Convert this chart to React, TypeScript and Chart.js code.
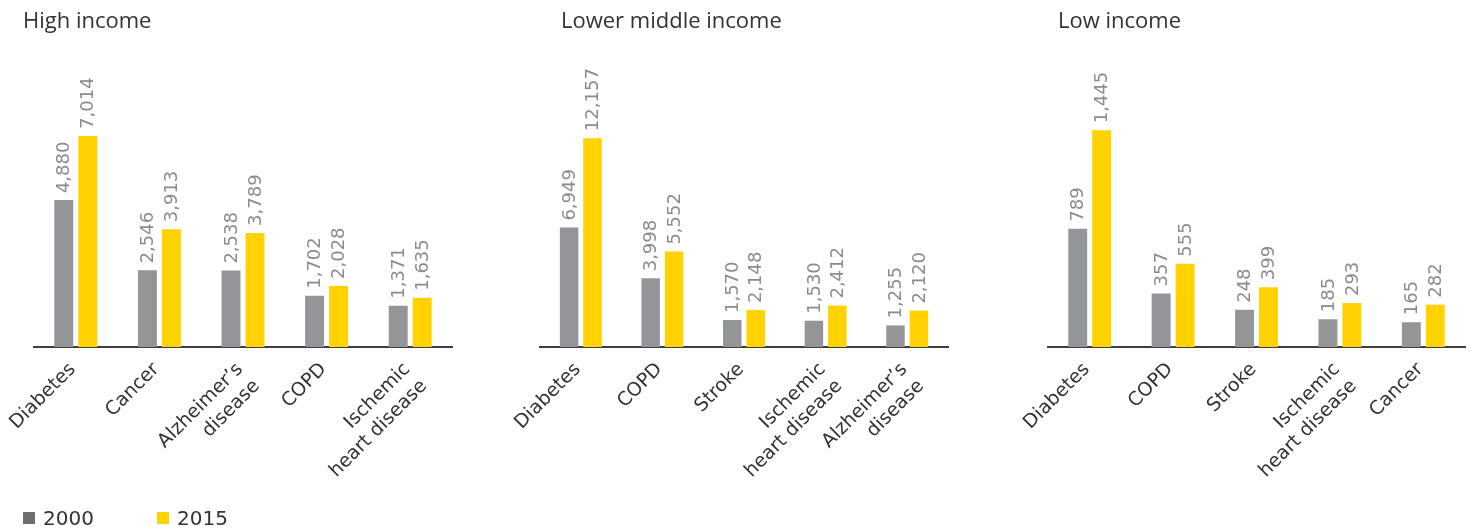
import React, { useEffect, useRef } from "react";
import { Chart, registerables } from "chart.js";

Chart.register(...registerables);

const seriesNames = ["2000", "2015"];
const seriesColors = ["#939598", "#ffd200"];
const legendColors = ["#6e6e72", "#ffd200"];

const panelTitles = ["High income", "Lower middle income", "Low income"];

const highCategories = ["Diabetes", "Cancer", ["Alzheimer’s", "disease"], "COPD", ["Ischemic", "heart disease"]];
const high2000 = [4880, 2546, 2538, 1702, 1371];
const high2015 = [7014, 3913, 3789, 2028, 1635];

const lowerMiddleCategories = ["Diabetes", "COPD", "Stroke", ["Ischemic", "heart disease"], ["Alzheimer’s", "disease"]];
const lowerMiddle2000 = [6949, 3998, 1570, 1530, 1255];
const lowerMiddle2015 = [12157, 5552, 2148, 2412, 2120];

const lowCategories = ["Diabetes", "COPD", "Stroke", ["Ischemic", "heart disease"], "Cancer"];
const low2000 = [789, 357, 248, 185, 165];
const low2015 = [1445, 555, 399, 293, 282];

const axisMax = [9535, 16705, 1913];

const panels = [
  { title: panelTitles[0], categories: highCategories, a: high2000, b: high2015, max: axisMax[0], left: 0, width: 490, padL: 34, padR: 38, titleX: 23 },
  { title: panelTitles[1], categories: lowerMiddleCategories, a: lowerMiddle2000, b: lowerMiddle2015, max: axisMax[1], left: 490, width: 490, padL: 50, padR: 32, titleX: 561 },
  { title: panelTitles[2], categories: lowCategories, a: low2000, b: low2015, max: axisMax[2], left: 980, width: 491, padL: 68, padR: 6, titleX: 1058 },
];

const H = 529;
const PLOT_TOP = 60;
const PLOT_BOTTOM = 347;
const AXIS_H = 140;

const valueLabelPlugin = {
  id: "valueLabels",
  afterDatasetsDraw(chart: any) {
    const ctx = chart.ctx;
    ctx.save();
    ctx.font = "18px 'DejaVu Sans'";
    ctx.fillStyle = "#8a8b8d";
    ctx.textAlign = "left";
    ctx.textBaseline = "middle";
    chart.data.datasets.forEach((ds: any, di: number) => {
      const meta = chart.getDatasetMeta(di);
      meta.data.forEach((bar: any, i: number) => {
        const v = ds.data[i];
        ctx.save();
        ctx.translate(bar.x + 1, bar.y - 7);
        ctx.rotate(-Math.PI / 2);
        ctx.fillText(Number(v).toLocaleString("en-US"), 0, 0);
        ctx.restore();
      });
    });
    ctx.restore();
  },
};

function Panel({ p }: { p: any }) {
  const ref = useRef<HTMLCanvasElement>(null);
  useEffect(() => {
    if (!ref.current) return;
    const chart = new Chart(ref.current, {
      type: "bar",
      data: {
        labels: p.categories,
        datasets: [
          { label: seriesNames[0], data: p.a, backgroundColor: seriesColors[0], barPercentage: 0.79, categoryPercentage: 0.574 },
          { label: seriesNames[1], data: p.b, backgroundColor: seriesColors[1], barPercentage: 0.79, categoryPercentage: 0.574 },
        ],
      },
      options: {
        responsive: false,
        animation: false,
        devicePixelRatio: 1,
        layout: { padding: { left: p.padL, right: p.padR, top: PLOT_TOP, bottom: H - PLOT_BOTTOM - AXIS_H } },
        plugins: { legend: { display: false }, tooltip: { enabled: false }, title: { display: false } },
        scales: {
          x: {
            grid: { display: false, drawTicks: false },
            border: { display: true, color: "#3d3d3f", width: 2 },
            ticks: {
              autoSkip: false,
              maxRotation: 45,
              minRotation: 45,
              padding: 11,
              labelOffset: -3,
              color: "#333333",
              font: { family: "'DejaVu Sans'", size: 19, lineHeight: 1.25 },
            },
            afterFit: (scale: any) => {
              scale.height = AXIS_H;
              scale.paddingLeft = 0;
              scale.paddingRight = 0;
            },
          },
          y: { display: false, min: 0, max: p.max },
        },
      },
      plugins: [valueLabelPlugin],
    });
    return () => chart.destroy();
  }, []);
  return (
    <canvas
      ref={ref}
      width={p.width}
      height={H}
      style={{ position: "absolute", left: p.left, top: 0, width: p.width, height: H }}
    />
  );
}

export default function App() {
  return (
    <div style={{ position: "fixed", left: 0, top: 0, width: 1471, height: H, background: "#ffffff", overflow: "hidden" }}>
      {panels.map((p, i) => (
        <Panel key={i} p={p} />
      ))}
      {panels.map((p, i) => (
        <div
          key={"t" + i}
          style={{ position: "absolute", left: p.titleX, top: 4, fontFamily: "'Open Sans'", fontSize: 22, color: "#333335", whiteSpace: "nowrap", lineHeight: "30px" }}
        >
          {p.title}
        </div>
      ))}
      {seriesNames.map((s, i) => (
        <div
          key={"l" + i}
          style={{ position: "absolute", left: i === 0 ? 23 : 157, top: 506, display: "flex", alignItems: "center", fontFamily: "'DejaVu Sans'", fontSize: 20, color: "#333333", lineHeight: "24px" }}
        >
          <span style={{ display: "inline-block", width: 12, height: 12, background: legendColors[i], marginRight: 8 }} />
          {s}
        </div>
      ))}
    </div>
  );
}
